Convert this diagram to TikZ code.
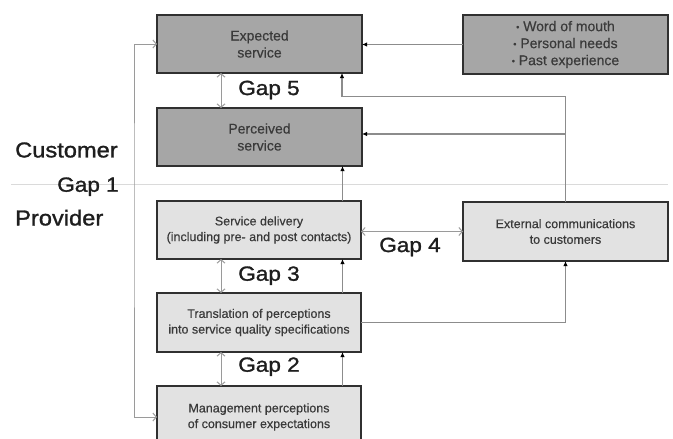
\documentclass[tikz,border=0pt]{standalone}
\usepackage{fontspec}
\setmainfont{Liberation Sans}
\newfontfamily\bigfont[FakeStretch=1.1,FakeBold=1.3]{Liberation Sans}
\newfontfamily\boxfont[FakeBold=0.4]{Liberation Sans}
\usetikzlibrary{arrows.meta}
\definecolor{darkfill}{HTML}{A6A6A6}
\definecolor{lightfill}{HTML}{E2E2E2}
\definecolor{boxline}{HTML}{303030}
\definecolor{linegray}{HTML}{8C8C8C}
\definecolor{gapgray}{HTML}{9A9A9A}
\definecolor{sepgray}{HTML}{DADADA}
\definecolor{txtgray}{HTML}{3A3A3A}
\definecolor{bigtxt}{HTML}{1E1E1E}
\begin{document}
\begin{tikzpicture}[x=1pt,y=-1pt,
  basebox/.style={draw=boxline, line width=1.6pt, anchor=north west, inner sep=0pt, outer sep=0pt, align=center, text=txtgray},
  darkbox/.style={basebox, fill=darkfill, font=\boxfont\fontsize{14}{17}\selectfont},
  lightbox/.style={basebox, fill=lightfill, font=\boxfont\fontsize{12.5}{15.7}\selectfont},
  flow/.style={draw=linegray, line width=1.2pt, -{Latex[length=5pt,width=4.5pt,color=black]}},
  gaparrow/.style={draw=gapgray, line width=1pt, {Straight Barb[length=3.5pt,width=8pt]}-{Straight Barb[length=3.5pt,width=8pt]}},
  biglabel/.style={inner sep=0pt, text=bigtxt, font=\bigfont\fontsize{20.5}{22}\selectfont},
  sidelabel/.style={inner sep=0pt, text=bigtxt, font=\bigfont\fontsize{21.5}{23}\selectfont}
]
\useasboundingbox (0,0) rectangle (673,439);
\clip (0,0) rectangle (673,439);

% separator line (Gap 1)
\coordinate (sepL) at (11,184);
\coordinate (sepR) at (668,184);
\draw[sepgray, line width=1pt] (sepL) -- (sepR);

% boxes
\node[darkbox, minimum width=205pt, minimum height=58pt] (exp) at (157,15) {Expected\\service};
\node[darkbox, minimum width=205pt, minimum height=58pt] (perc) at (157,108) {Perceived\\service};
\node[darkbox, minimum width=205pt, minimum height=59pt] (wom) at (463,15)
  {{\fontsize{9}{9}\selectfont\raisebox{1pt}{•}} Word of mouth\\{\fontsize{9}{9}\selectfont\raisebox{1pt}{•}} Personal needs\\{\fontsize{9}{9}\selectfont\raisebox{1pt}{•}} Past experience};
\node[lightbox, minimum width=204pt, minimum height=58pt] (sd) at (157,201) {Service delivery\\(including pre- and post contacts)};
\node[lightbox, minimum width=205pt, minimum height=59pt] (ext) at (463,202) {External communications\\to customers};
\node[lightbox, minimum width=204pt, minimum height=59pt] (tr) at (157,293) {Translation of perceptions\\into service quality specifications};
\node[lightbox, minimum width=204pt, minimum height=62pt] (mg) at (157,386) {Management perceptions\\of consumer expectations};

% flow connectors
\draw[flow] (wom.west) -- (exp.east |- wom.west);
\coordinate (jt) at (565.5,96.7);
\coordinate (jp) at (565.5,134);
\path (exp.south east) ++(-20,0) coordinate (ea);
\draw[flow] (ext.north) -- (jt) -| (ea);
\draw[flow] (jp) -- (perc.east |- jp);
\path (sd.north east) ++(-18.5,0) coordinate (a1);
\draw[flow] (a1) -- (a1 |- perc.south);
\path (tr.north east) ++(-18.5,0) coordinate (a2);
\draw[flow] (a2) -- (a2 |- sd.south);
\path (mg.north east) ++(-18.5,0) coordinate (a3);
\draw[flow] (a3) -- (a3 |- tr.south);
\draw[flow] (tr.east) -| (ext.south);

% gap arrows
\path (exp.south west) ++(64,0) coordinate (g5);
\draw[gaparrow] (g5) -- (g5 |- perc.north);
\path (sd.south west) ++(64,0) coordinate (g3);
\draw[gaparrow] (g3) -- (g3 |- tr.north);
\path (tr.south west) ++(64,0) coordinate (g2);
\draw[gaparrow] (g2) -- (g2 |- mg.north);
\draw[gaparrow] (sd.east |- ext.west) -- (ext.west);
\coordinate (fb) at (134,200);
\draw[gaparrow] (exp.west) -| (fb) |- (mg.west);

% labels
\node[biglabel] (gap5) at (269,90) {Gap 5};
\node[biglabel] (gap3) at (269,275.7) {Gap 3};
\node[biglabel] (gap2) at (269,366.7) {Gap 2};
\node[biglabel] (gap4) at (410,247) {Gap 4};
\node[biglabel] (gap1) at (88,186.7) {Gap 1};
\node[sidelabel, anchor=west] (cust) at (15,150) {Customer};
\node[sidelabel, anchor=west] (prov) at (15,217.7) {Provider};
\end{tikzpicture}
\end{document}
